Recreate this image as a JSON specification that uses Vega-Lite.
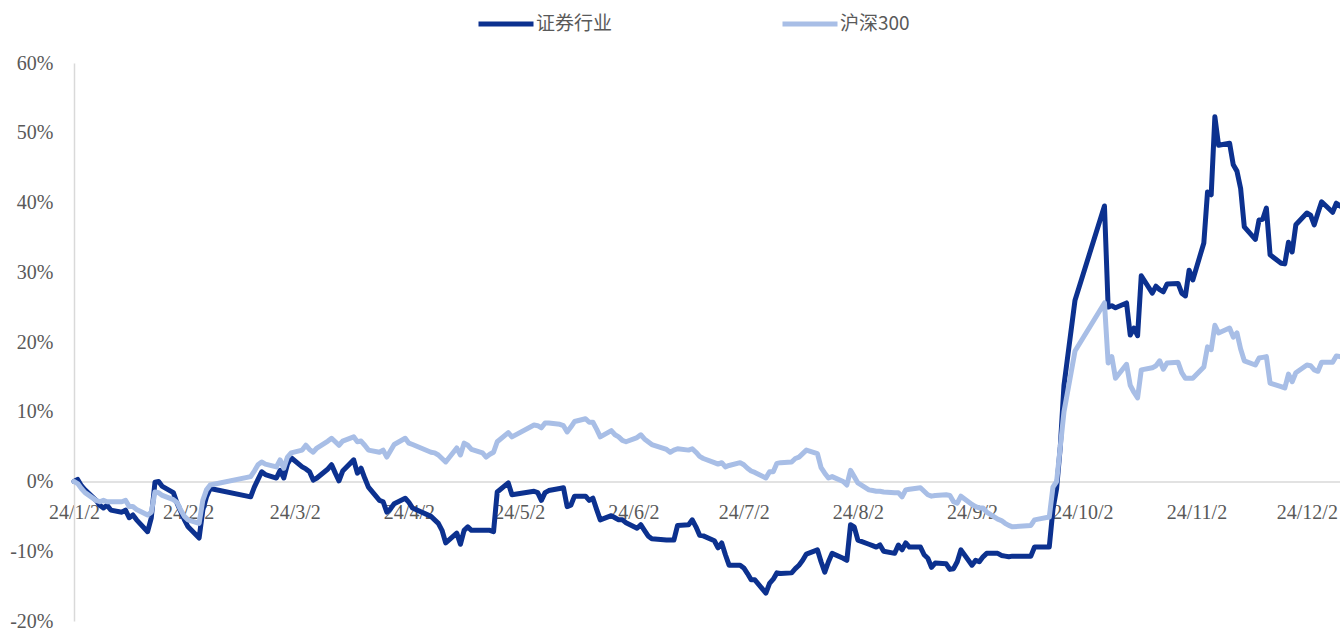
{
  "$schema": "https://vega.github.io/schema/vega-lite/v6.json",
  "width": 1266,
  "height": 558,
  "autosize": {"type": "none"},
  "padding": {"left": 74, "top": 63, "right": 0, "bottom": 9},
  "background": "white",
  "config": {"view": {"stroke": null}, "font": "Liberation Serif"},
  "data": {"values": [
    {"date":"2024-01-02","证券行业":0,"沪深300":0},
    {"date":"2024-01-03","证券行业":0.3,"沪深300":-0.3},
    {"date":"2024-01-04","证券行业":-0.6,"沪深300":-1.0},
    {"date":"2024-01-05","证券行业":-1.2,"沪深300":-1.6},
    {"date":"2024-01-08","证券行业":-2.7,"沪深300":-2.7},
    {"date":"2024-01-09","证券行业":-3.4,"沪深300":-2.9},
    {"date":"2024-01-10","证券行业":-3.8,"沪深300":-2.7},
    {"date":"2024-01-11","证券行业":-3.4,"沪深300":-2.9},
    {"date":"2024-01-12","证券行业":-4.1,"沪深300":-2.9},
    {"date":"2024-01-15","证券行业":-4.4,"沪深300":-2.9},
    {"date":"2024-01-16","证券行业":-4.1,"沪深300":-2.7},
    {"date":"2024-01-17","证券行业":-5.2,"沪深300":-3.6},
    {"date":"2024-01-18","证券行业":-4.8,"沪深300":-3.6},
    {"date":"2024-01-19","证券行业":-5.5,"沪深300":-4.0},
    {"date":"2024-01-22","证券行业":-7.2,"沪深300":-4.8},
    {"date":"2024-01-23","证券行业":-5.2,"沪深300":-4.4},
    {"date":"2024-01-24","证券行业":-0.1,"沪深300":-1.5},
    {"date":"2024-01-25","证券行业":0.0,"沪深300":-1.6},
    {"date":"2024-01-26","证券行业":-0.7,"沪深300":-2.0},
    {"date":"2024-01-29","证券行业":-1.6,"沪深300":-2.6},
    {"date":"2024-01-30","证券行业":-3.1,"沪深300":-3.0},
    {"date":"2024-01-31","证券行业":-4.3,"沪深300":-4.1},
    {"date":"2024-02-01","证券行业":-5.5,"沪深300":-5.0},
    {"date":"2024-02-02","证券行业":-6.5,"沪深300":-5.5},
    {"date":"2024-02-05","证券行业":-8.1,"沪深300":-6.0},
    {"date":"2024-02-06","证券行业":-4.1,"沪深300":-2.7},
    {"date":"2024-02-07","证券行业":-2.2,"沪深300":-1.2},
    {"date":"2024-02-08","证券行业":-1.0,"沪深300":-0.5},
    {"date":"2024-02-19","证券行业":-2.2,"沪深300":0.7},
    {"date":"2024-02-20","证券行业":-0.8,"沪深300":1.5},
    {"date":"2024-02-21","证券行业":0.3,"沪深300":2.4},
    {"date":"2024-02-22","证券行业":1.4,"沪深300":2.8},
    {"date":"2024-02-23","证券行业":1.0,"沪深300":2.5},
    {"date":"2024-02-26","证券行业":0.5,"沪深300":2.1},
    {"date":"2024-02-27","证券行业":1.6,"沪深300":3.1},
    {"date":"2024-02-28","证券行业":0.5,"沪深300":1.9},
    {"date":"2024-02-29","证券行业":2.5,"沪深300":3.5},
    {"date":"2024-03-01","证券行业":3.4,"沪深300":4.1},
    {"date":"2024-03-04","证券行业":2.1,"沪深300":4.5},
    {"date":"2024-03-05","证券行业":1.8,"沪深300":5.2},
    {"date":"2024-03-06","证券行业":1.4,"沪深300":4.6},
    {"date":"2024-03-07","证券行业":0.2,"沪深300":4.2},
    {"date":"2024-03-08","证券行业":0.5,"沪深300":4.8},
    {"date":"2024-03-11","证券行业":1.8,"沪深300":5.8},
    {"date":"2024-03-12","证券行业":2.4,"沪深300":6.2},
    {"date":"2024-03-13","证券行业":1.2,"沪深300":5.7},
    {"date":"2024-03-14","证券行业":0.1,"沪深300":5.2},
    {"date":"2024-03-15","证券行业":1.5,"沪深300":5.8},
    {"date":"2024-03-18","证券行业":3.1,"沪深300":6.4},
    {"date":"2024-03-19","证券行业":1.2,"沪深300":5.7},
    {"date":"2024-03-20","证券行业":1.9,"沪深300":5.8},
    {"date":"2024-03-21","证券行业":0.5,"沪深300":5.2},
    {"date":"2024-03-22","证券行业":-0.8,"沪深300":4.5},
    {"date":"2024-03-25","证券行业":-2.7,"沪深300":4.2},
    {"date":"2024-03-26","证券行业":-2.9,"沪深300":4.5},
    {"date":"2024-03-27","证券行业":-4.4,"沪深300":3.5},
    {"date":"2024-03-28","证券行业":-3.9,"沪深300":4.4},
    {"date":"2024-03-29","证券行业":-3.2,"沪深300":5.3},
    {"date":"2024-04-01","证券行业":-2.4,"沪深300":6.2},
    {"date":"2024-04-02","证券行业":-3.0,"沪深300":5.5},
    {"date":"2024-04-03","证券行业":-3.8,"沪深300":5.3},
    {"date":"2024-04-08","证券行业":-5.0,"沪深300":4.2},
    {"date":"2024-04-09","证券行业":-5.5,"沪深300":4.1},
    {"date":"2024-04-10","证券行业":-6.0,"沪深300":3.8},
    {"date":"2024-04-11","证券行业":-7.0,"沪深300":3.3},
    {"date":"2024-04-12","证券行业":-8.8,"沪深300":2.8},
    {"date":"2024-04-15","证券行业":-7.4,"沪深300":4.8},
    {"date":"2024-04-16","证券行业":-9.0,"沪深300":3.8},
    {"date":"2024-04-17","证券行业":-7.0,"沪深300":5.5},
    {"date":"2024-04-18","证券行业":-6.5,"沪深300":5.2},
    {"date":"2024-04-19","证券行业":-7.0,"沪深300":4.6},
    {"date":"2024-04-22","证券行业":-7.0,"沪深300":4.1},
    {"date":"2024-04-23","证券行业":-7.0,"沪深300":3.5},
    {"date":"2024-04-24","证券行业":-7.0,"沪深300":3.9},
    {"date":"2024-04-25","证券行业":-7.2,"沪深300":4.2},
    {"date":"2024-04-26","证券行业":-1.5,"沪深300":5.7},
    {"date":"2024-04-29","证券行业":-0.2,"沪深300":7.0},
    {"date":"2024-04-30","证券行业":-1.9,"沪深300":6.4},
    {"date":"2024-05-06","证券行业":-1.4,"沪深300":8.1},
    {"date":"2024-05-07","证券行业":-1.6,"沪深300":8.0},
    {"date":"2024-05-08","证券行业":-2.7,"沪深300":7.7},
    {"date":"2024-05-09","证券行业":-1.6,"沪深300":8.4},
    {"date":"2024-05-10","证券行业":-1.3,"沪深300":8.4},
    {"date":"2024-05-13","证券行业":-1.0,"沪深300":8.2},
    {"date":"2024-05-14","证券行业":-0.9,"沪深300":8.0},
    {"date":"2024-05-15","证券行业":-3.6,"沪深300":7.1},
    {"date":"2024-05-16","证券行业":-3.4,"沪深300":7.8},
    {"date":"2024-05-17","证券行业":-2.1,"沪深300":8.6},
    {"date":"2024-05-20","证券行业":-2.1,"沪深300":9.0},
    {"date":"2024-05-21","证券行业":-2.7,"沪深300":8.5},
    {"date":"2024-05-22","证券行业":-2.4,"沪深300":8.5},
    {"date":"2024-05-23","证券行业":-4.0,"沪深300":7.5},
    {"date":"2024-05-24","证券行业":-5.5,"沪深300":6.4},
    {"date":"2024-05-27","证券行业":-4.9,"沪深300":7.3},
    {"date":"2024-05-28","证券行业":-5.2,"沪深300":6.7},
    {"date":"2024-05-29","证券行业":-5.5,"沪深300":6.4},
    {"date":"2024-05-30","证券行业":-5.5,"沪深300":5.9},
    {"date":"2024-05-31","证券行业":-5.9,"沪深300":5.7},
    {"date":"2024-06-03","证券行业":-6.7,"沪深300":6.3},
    {"date":"2024-06-04","证券行业":-6.2,"沪深300":6.7},
    {"date":"2024-06-05","证券行业":-7.0,"沪深300":6.1},
    {"date":"2024-06-06","证券行业":-7.8,"沪深300":5.7},
    {"date":"2024-06-07","证券行业":-8.2,"沪深300":5.3},
    {"date":"2024-06-11","证券行业":-8.4,"沪深300":4.6},
    {"date":"2024-06-12","证券行业":-8.4,"沪深300":4.2},
    {"date":"2024-06-13","证券行业":-8.4,"沪深300":4.5},
    {"date":"2024-06-14","证券行业":-6.3,"沪深300":4.7},
    {"date":"2024-06-17","证券行业":-6.2,"沪深300":4.5},
    {"date":"2024-06-18","证券行业":-5.5,"沪深300":4.7},
    {"date":"2024-06-19","证券行业":-6.5,"沪深300":4.2},
    {"date":"2024-06-20","证券行业":-7.7,"沪深300":3.6},
    {"date":"2024-06-21","证券行业":-7.8,"沪深300":3.3},
    {"date":"2024-06-24","证券行业":-8.5,"沪深300":2.7},
    {"date":"2024-06-25","证券行业":-9.5,"沪深300":2.5},
    {"date":"2024-06-26","证券行业":-8.8,"沪深300":2.7},
    {"date":"2024-06-27","证券行业":-10.5,"沪深300":2.1},
    {"date":"2024-06-28","证券行业":-12.0,"沪深300":2.3},
    {"date":"2024-07-01","证券行业":-12.0,"沪深300":2.7},
    {"date":"2024-07-02","证券行业":-12.4,"沪深300":2.4},
    {"date":"2024-07-03","证券行业":-13.2,"沪深300":1.9},
    {"date":"2024-07-04","证券行业":-14.1,"沪深300":1.5},
    {"date":"2024-07-05","证券行业":-14.1,"沪深300":1.3},
    {"date":"2024-07-08","证券行业":-16.0,"沪深300":0.5},
    {"date":"2024-07-09","证券行业":-14.6,"沪深300":1.4},
    {"date":"2024-07-10","证券行业":-14.0,"沪深300":1.4},
    {"date":"2024-07-11","证券行业":-13.1,"沪深300":2.6},
    {"date":"2024-07-12","证券行业":-13.2,"沪深300":2.7},
    {"date":"2024-07-15","证券行业":-13.1,"沪深300":2.8},
    {"date":"2024-07-16","证券行业":-12.5,"沪深300":3.3},
    {"date":"2024-07-17","证券行业":-12.0,"沪深300":3.5},
    {"date":"2024-07-18","证券行业":-11.3,"沪深300":4.0},
    {"date":"2024-07-19","证券行业":-10.4,"沪深300":4.5},
    {"date":"2024-07-22","证券行业":-9.8,"沪深300":4.0},
    {"date":"2024-07-23","证券行业":-11.5,"沪深300":2.0},
    {"date":"2024-07-24","证券行业":-13.0,"沪深300":1.2},
    {"date":"2024-07-25","证券行业":-11.5,"沪深300":0.5},
    {"date":"2024-07-26","证券行业":-10.3,"沪深300":0.7},
    {"date":"2024-07-29","证券行业":-11.0,"沪深300":0.0},
    {"date":"2024-07-30","证券行业":-11.3,"沪深300":-0.5},
    {"date":"2024-07-31","证券行业":-6.2,"沪深300":1.6},
    {"date":"2024-08-01","证券行业":-6.5,"沪深300":0.7},
    {"date":"2024-08-02","证券行业":-8.4,"沪深300":-0.2},
    {"date":"2024-08-05","证券行业":-9.0,"沪深300":-1.2},
    {"date":"2024-08-06","证券行业":-9.2,"沪深300":-1.3},
    {"date":"2024-08-07","证券行业":-9.4,"沪深300":-1.4},
    {"date":"2024-08-08","证券行业":-9.1,"沪深300":-1.4},
    {"date":"2024-08-09","证券行业":-10.0,"沪深300":-1.5},
    {"date":"2024-08-12","证券行业":-10.3,"沪深300":-1.6},
    {"date":"2024-08-13","证券行业":-9.1,"沪深300":-1.6},
    {"date":"2024-08-14","证券行业":-9.8,"沪深300":-2.2},
    {"date":"2024-08-15","证券行业":-8.8,"沪深300":-1.2},
    {"date":"2024-08-16","证券行业":-9.4,"沪深300":-1.1},
    {"date":"2024-08-19","证券行业":-9.4,"沪深300":-0.9},
    {"date":"2024-08-20","证券行业":-10.5,"沪深300":-1.4},
    {"date":"2024-08-21","证券行业":-11.0,"沪深300":-1.9},
    {"date":"2024-08-22","证券行业":-12.3,"沪深300":-2.1},
    {"date":"2024-08-23","证券行业":-11.7,"沪深300":-2.0},
    {"date":"2024-08-26","证券行业":-11.8,"沪深300":-1.9},
    {"date":"2024-08-27","证券行业":-12.6,"沪深300":-2.0},
    {"date":"2024-08-28","证券行业":-12.5,"沪深300":-2.9},
    {"date":"2024-08-29","证券行业":-11.5,"沪深300":-3.1},
    {"date":"2024-08-30","证券行业":-9.8,"沪深300":-2.1},
    {"date":"2024-09-02","证券行业":-12.0,"沪深300":-3.3},
    {"date":"2024-09-03","证券行业":-11.3,"沪深300":-3.6},
    {"date":"2024-09-04","证券行业":-11.5,"沪深300":-3.8},
    {"date":"2024-09-05","证券行业":-10.8,"沪深300":-3.8},
    {"date":"2024-09-06","证券行业":-10.3,"沪深300":-4.4},
    {"date":"2024-09-09","证券行业":-10.3,"沪深300":-5.4},
    {"date":"2024-09-10","证券行业":-10.6,"沪深300":-5.6},
    {"date":"2024-09-11","证券行业":-10.7,"沪深300":-6.0},
    {"date":"2024-09-12","证券行业":-10.8,"沪深300":-6.3},
    {"date":"2024-09-13","证券行业":-10.7,"沪深300":-6.5},
    {"date":"2024-09-18","证券行业":-10.7,"沪深300":-6.3},
    {"date":"2024-09-19","证券行业":-9.4,"沪深300":-5.5},
    {"date":"2024-09-20","证券行业":-9.4,"沪深300":-5.4},
    {"date":"2024-09-23","证券行业":-9.4,"沪深300":-5.1},
    {"date":"2024-09-24","证券行业":-4.0,"沪深300":-0.8},
    {"date":"2024-09-25","证券行业":-1.0,"沪深300":0.0},
    {"date":"2024-09-26","证券行业":5.0,"沪深300":5.0},
    {"date":"2024-09-27","证券行业":13.8,"沪深300":10.0},
    {"date":"2024-09-30","证券行业":26.0,"沪深300":18.7},
    {"date":"2024-10-08","证券行业":39.5,"沪深300":25.6},
    {"date":"2024-10-09","证券行业":25.0,"沪深300":17.0},
    {"date":"2024-10-10","证券行业":25.2,"沪深300":17.9},
    {"date":"2024-10-11","证券行业":24.9,"沪深300":14.8},
    {"date":"2024-10-14","证券行业":25.6,"沪深300":16.8},
    {"date":"2024-10-15","证券行业":21.0,"沪深300":13.8},
    {"date":"2024-10-16","证券行业":22.0,"沪深300":12.8},
    {"date":"2024-10-17","证券行业":20.9,"沪深300":12.0},
    {"date":"2024-10-18","证券行业":29.5,"沪深300":16.0},
    {"date":"2024-10-21","证券行业":27.0,"沪深300":16.3},
    {"date":"2024-10-22","证券行业":28.0,"沪深300":16.6},
    {"date":"2024-10-23","证券行业":27.5,"沪深300":17.3},
    {"date":"2024-10-24","证券行业":27.2,"沪深300":16.1},
    {"date":"2024-10-25","证券行业":28.3,"沪深300":17.0},
    {"date":"2024-10-28","证券行业":28.4,"沪深300":17.1},
    {"date":"2024-10-29","证券行业":27.0,"沪深300":15.6},
    {"date":"2024-10-30","证券行业":26.6,"沪深300":14.8},
    {"date":"2024-10-31","证券行业":30.3,"沪深300":14.8},
    {"date":"2024-11-01","证券行业":28.9,"沪深300":14.8},
    {"date":"2024-11-04","证券行业":34.2,"沪深300":16.4},
    {"date":"2024-11-05","证券行业":41.5,"沪深300":19.3},
    {"date":"2024-11-06","证券行业":41.1,"沪深300":18.9},
    {"date":"2024-11-07","证券行业":52.3,"沪深300":22.4},
    {"date":"2024-11-08","证券行业":48.2,"沪深300":21.3},
    {"date":"2024-11-11","证券行业":48.5,"沪深300":22.0},
    {"date":"2024-11-12","证券行业":45.4,"沪深300":20.7},
    {"date":"2024-11-13","证券行业":44.5,"沪深300":21.3},
    {"date":"2024-11-14","证券行业":42.0,"沪深300":19.0},
    {"date":"2024-11-15","证券行业":36.5,"沪深300":17.3},
    {"date":"2024-11-18","证券行业":34.7,"沪深300":16.7},
    {"date":"2024-11-19","证券行业":37.5,"沪深300":17.7},
    {"date":"2024-11-20","证券行业":37.6,"沪深300":17.8},
    {"date":"2024-11-21","证券行业":39.2,"沪深300":17.9},
    {"date":"2024-11-22","证券行业":32.5,"沪深300":14.1},
    {"date":"2024-11-25","证券行业":31.3,"沪深300":13.6},
    {"date":"2024-11-26","证券行业":31.2,"沪深300":13.4},
    {"date":"2024-11-27","证券行业":34.3,"沪深300":15.4},
    {"date":"2024-11-28","证券行业":32.9,"沪深300":14.3},
    {"date":"2024-11-29","证券行业":36.8,"沪深300":15.6},
    {"date":"2024-12-02","证券行业":38.5,"沪深300":16.7},
    {"date":"2024-12-03","证券行业":38.2,"沪深300":16.6},
    {"date":"2024-12-04","证券行业":36.8,"沪深300":16.0},
    {"date":"2024-12-05","证券行业":38.5,"沪深300":15.8},
    {"date":"2024-12-06","证券行业":40.1,"沪深300":17.1},
    {"date":"2024-12-09","证券行业":38.6,"沪深300":17.1},
    {"date":"2024-12-10","证券行业":39.9,"沪深300":18.0},
    {"date":"2024-12-11","证券行业":39.5,"沪深300":17.9}
  ]},
  "transform": [{"fold": ["证券行业", "沪深300"], "as": ["s", "v"]}],
  "encoding": {
    "x": {
      "field": "date", "type": "temporal",
      "scale": {"type": "utc", "domain": [{"year": 2024, "month": 1, "date": 2, "utc": true}, {"year": 2024, "month": 12, "date": 11, "utc": true}]},
      "axis": {
        "title": null, "grid": false, "ticks": false, "tickSize": 0,
        "values": [
          {"year": 2024, "month": 1, "date": 2, "utc": true},
          {"year": 2024, "month": 2, "date": 2, "utc": true},
          {"year": 2024, "month": 3, "date": 2, "utc": true},
          {"year": 2024, "month": 4, "date": 2, "utc": true},
          {"year": 2024, "month": 5, "date": 2, "utc": true},
          {"year": 2024, "month": 6, "date": 2, "utc": true},
          {"year": 2024, "month": 7, "date": 2, "utc": true},
          {"year": 2024, "month": 8, "date": 2, "utc": true},
          {"year": 2024, "month": 9, "date": 2, "utc": true},
          {"year": 2024, "month": 10, "date": 2, "utc": true},
          {"year": 2024, "month": 11, "date": 2, "utc": true},
          {"year": 2024, "month": 12, "date": 2, "utc": true}
        ],
        "labelExpr": "utcFormat(datum.value, '%y/%-m/%-d')",
        "offset": -139.5,
        "domainColor": "#D9D9D9", "domainWidth": 1.5,
        "labelFont": "Liberation Serif", "labelFontSize": 20, "labelColor": "#595959",
        "labelPadding": 21, "labelFlush": false, "labelOverlap": false, "labelBound": false
      }
    },
    "y": {
      "field": "v", "type": "quantitative",
      "scale": {"domain": [-20, 60], "nice": false, "zero": false},
      "axis": {
        "title": null, "grid": false, "ticks": false, "tickSize": 0,
        "values": [-20, -10, 0, 10, 20, 30, 40, 50, 60],
        "labelExpr": "datum.value + '%'",
        "domainColor": "#D9D9D9", "domainWidth": 1.5,
        "labelFont": "Liberation Serif", "labelFontSize": 20, "labelColor": "#595959",
        "labelPadding": 21, "labelFlush": false, "labelOverlap": false, "labelBound": false
      }
    },
    "color": {
      "field": "s", "type": "nominal",
      "scale": {"domain": ["证券行业", "沪深300"], "range": ["#0C318F", "#A8BEE6"]},
      "legend": {
        "title": null, "orient": "none", "legendX": 402, "legendY": -69, "direction": "horizontal",
        "symbolType": "stroke", "symbolSize": 3025, "symbolStrokeWidth": 5,
        "labelFont": "Noto Sans CJK SC", "labelFontSize": 19, "labelColor": "#595959",
        "labelOffset": 0, "columnPadding": 159, "padding": 0
      }
    }
  },
  "layer": [
    {"transform": [{"filter": "datum.s === '证券行业'"}], "mark": {"type": "line", "strokeWidth": 5, "strokeJoin": "round", "strokeCap": "round"}},
    {"transform": [{"filter": "datum.s === '沪深300'"}], "mark": {"type": "line", "strokeWidth": 5, "strokeJoin": "round", "strokeCap": "round"}}
  ]
}
